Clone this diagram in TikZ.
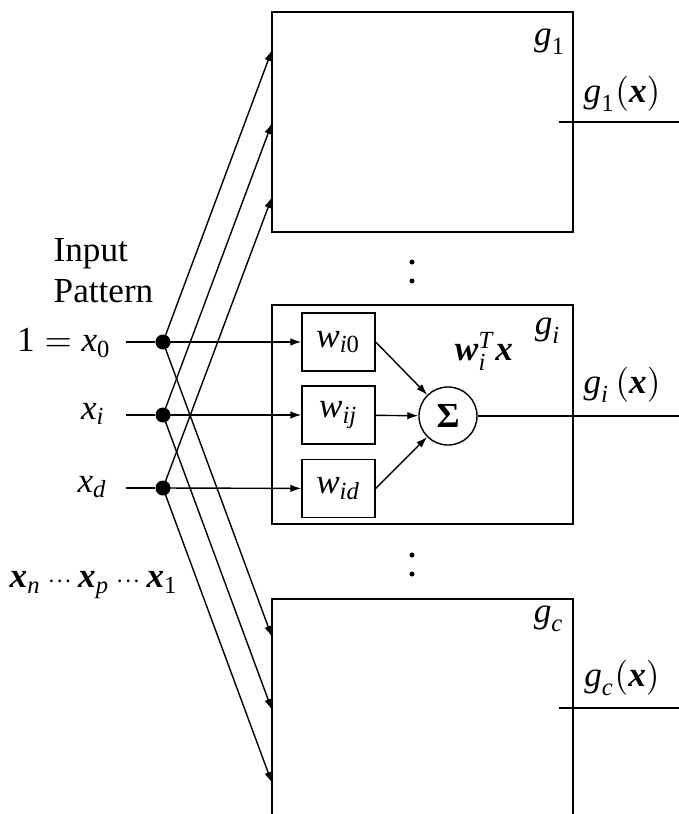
\documentclass[tikz,border=0pt]{standalone}
\usepackage{amsmath}
\usepackage{fontspec}
\setmainfont{Liberation Serif}
\usetikzlibrary{arrows.meta, positioning, calc}
\newcommand{\vi}[1]{\text{\textit{#1}}}
\newcommand{\vb}[1]{\text{\textbf{\textit{#1}}}}
\newcommand{\vr}[1]{\text{#1}}
\newcommand{\smdots}{\mathord{{\scriptstyle\cdots}}}

\begin{document}
\begin{tikzpicture}[
    x=0.01cm, y=-0.01cm,
    >={Latex[length=1.1mm, width=0.75mm]},
    unitbox/.style={rectangle, draw, thin, minimum width=3.01cm, minimum height=2.2cm, inner sep=0pt},
    wbox/.style={rectangle, draw, thin, minimum width=0.73cm, minimum height=0.58cm, inner sep=0pt},
    sumnode/.style={circle, draw, thin, minimum size=0.58cm, inner sep=0pt},
    dotnode/.style={circle, fill=black, minimum size=0.15cm, inner sep=0pt},
    vdot/.style={circle, fill=black, minimum size=0.05cm, inner sep=0pt},
    lab/.style={inner sep=1pt},
    arrow/.style={->, thin}
]
\useasboundingbox (0,0) rectangle (679,814);
\clip (0,0) rectangle (679,814);

% === Unidades discriminantes ===
\node[unitbox] (g1box) at (422.5,122) {};
\node[unitbox, minimum height=2.19cm] (gibox) at (422.5,414.5) {};
\node[unitbox, minimum height=2.3cm] (gcbox) at (422.5,714) {};

\node[lab] (g1lab) at (550,42) {$\vi{g}_{\vr{1}}$};
\node[lab] (gilab) at (548,331) {$\vi{g}_{\vi{i}}$};
\node[lab] (gclab) at (549,619) {$\vi{g}_{\vi{c}}$};

% puntos suspensivos
\node[vdot] (v1) at (412,262) {};
\node[vdot] (v2) at (412,281) {};
\node[vdot] (v3) at (412,555) {};
\node[vdot] (v4) at (412,574) {};

% === Entradas ===
\node[align=left, anchor=north west, inner sep=0pt, font={\fontsize{10}{11.7}\selectfont}] (inpat) at (53,238) {Input\\Pattern};
\node[anchor=east, inner sep=0pt] (lx0) at (112,343) {$\vr{1} = \vi{x}_{\vr{0}}$};
\node[anchor=east, inner sep=0pt] (lxi) at (106,414) {$\vi{x}_{\vi{i}}$};
\node[anchor=east, inner sep=0pt] (lxd) at (108,487) {$\vi{x}_{\vi{d}}$};
\node[lab] (xseq) at (94,585) {$\vb{x}_{\vi{n}}\,\smdots\,\vb{x}_{\vi{p}}\,\smdots\,\vb{x}_{\vr{1}}$};

\node[dotnode] (d0) at (163,342) {};
\node[dotnode] (di) at (163,415) {};
\node[dotnode] (dd) at (163,488) {};

\coordinate (s0) at (126,342);
\coordinate (si) at (126,415);
\coordinate (sd) at (126,488);
\draw[thin] (s0) -- (d0);
\draw[thin] (si) -- (di);
\draw[thin] (sd) -- (dd);

% === Pesos y sumador ===
\node[wbox] (wi0) at (338.5,342) {$\vi{w}_{\vi{i}\vr{0}}$};
\node[wbox] (wij) at (338.5,415) {$\vi{w}_{\vi{ij}}$};
\node[wbox] (wid) at (338.5,488.5) {$\vi{w}_{\vi{id}}$};
\node[sumnode] (sum) at (448,416) {\textbf{Σ}};
\node[lab] (wtx) at (484,351) {$\vb{w}_{\vi{i}}^{\vi{T}}\vb{x}$};

\draw[arrow] (d0.center) -- (wi0);
\draw[arrow] (di.center) -- (wij);
\draw[arrow] (dd.center) -- (wid);
\draw[arrow] (wi0.east) -- (sum);
\draw[arrow] (wij) -- (sum);
\draw[arrow] (wid.east) -- (sum);

% === Conexiones a g_1 y g_c ===
\coordinate (t0) at (272,50);
\coordinate (ti) at (272,123);
\coordinate (td) at (272,197);
\coordinate (b0) at (272,637);
\coordinate (bi) at (272,710);
\coordinate (bd) at (272,783);
\foreach \n in {0,i,d} {
  \draw[arrow] (d\n.center) -- (t\n);
  \draw[arrow] (d\n.center) -- (b\n);
}

% === Salidas ===
\coordinate (o1) at (679,122);
\coordinate (oi) at (679,416);
\coordinate (oc) at (679,708);
\draw[thin] (g1box.east |- o1) ++(-15,0) -- (o1);
\draw[thin] (sum) -- (oi);
\draw[thin] (gcbox.east |- oc) ++(-15,0) -- (oc);

\node[lab] (g1x) at (622,94) {$\vi{g}_{\vr{1}}(\vb{x})$};
\node[lab] (gix) at (622,385) {$\vi{g}_{\vi{i}}\,(\vb{x})$};
\node[lab] (gcx) at (622,678) {$\vi{g}_{\vi{c}}(\vb{x})$};

\end{tikzpicture}
\end{document}
